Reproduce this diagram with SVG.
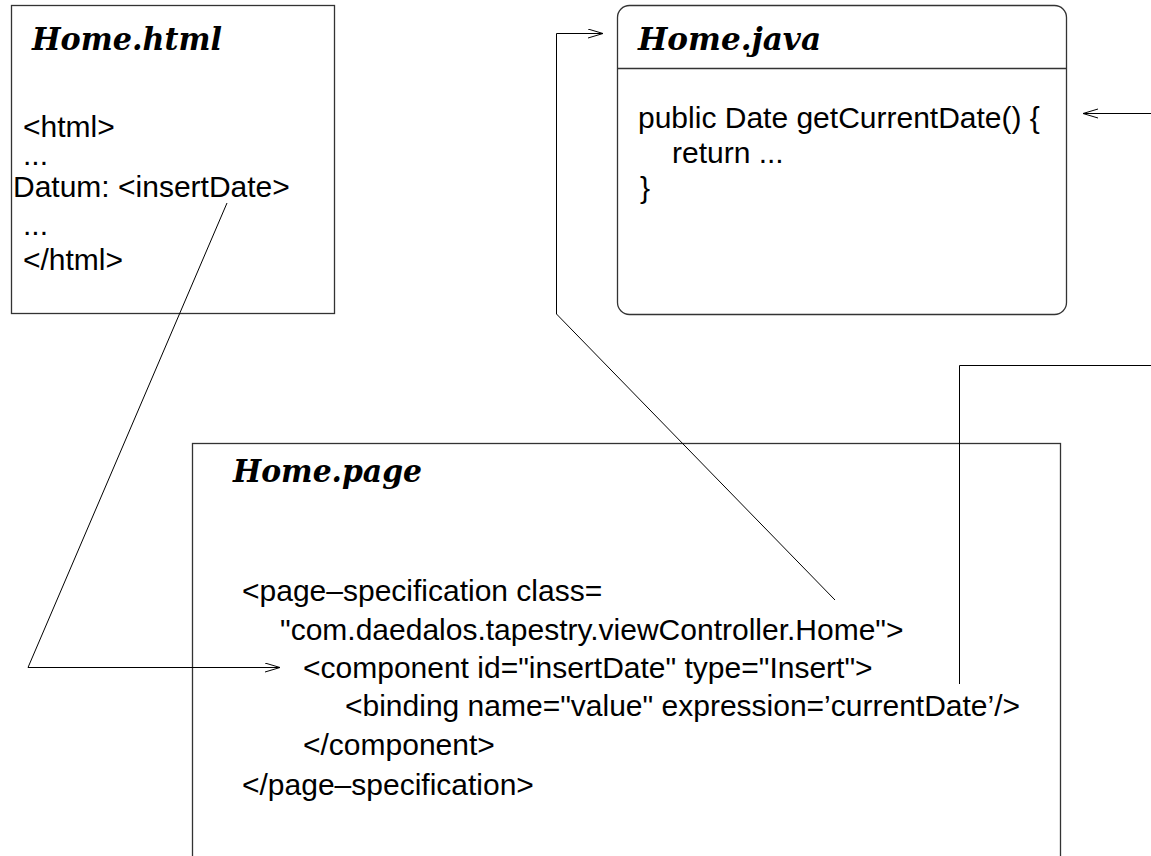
<svg xmlns="http://www.w3.org/2000/svg" width="1151" height="856" viewBox="0 0 1151 856">
<style>
.box{fill:#fff;stroke:#333;stroke-width:1.3}
.title{font-family:"DejaVu Serif","Liberation Serif",serif;font-weight:bold;font-style:italic;font-size:31px;fill:#000}
.code{font-family:"Liberation Sans",Arial,sans-serif;font-size:30px;fill:#000}
.dots{font-family:"Liberation Sans",Arial,sans-serif;font-size:30px;fill:#000}
.conn{fill:none;stroke:#000;stroke-width:1}
</style>
<defs>
<marker id="open" markerUnits="userSpaceOnUse" markerWidth="18" markerHeight="12" refX="15" refY="5" orient="auto">
<path d="M0,0.5 L15,5 L0,9.5" fill="none" stroke="#000" stroke-width="1"/>
</marker>
</defs>
<rect width="1151" height="856" fill="#fff"/>
<g id="home-html">
<rect class="box" x="11.5" y="5.5" width="323" height="308"/>
<text class="title" x="32" y="50" textLength="190" lengthAdjust="spacingAndGlyphs">Home.html</text>
<text class="code" x="23" y="137">&lt;html&gt;</text>
<text class="dots" x="23" y="165">...</text>
<text class="code" x="13" y="197">Datum: &lt;insertDate&gt;</text>
<text class="dots" x="23" y="235">...</text>
<text class="code" x="23" y="270">&lt;/html&gt;</text>
</g>
<g id="home-java">
<rect class="box" x="617.5" y="5.5" width="449" height="309" rx="12" ry="12"/>
<line x1="617.5" y1="68.5" x2="1066.5" y2="68.5" stroke="#333" stroke-width="1.3"/>
<text class="title" x="638" y="50" textLength="183" lengthAdjust="spacingAndGlyphs">Home.java</text>
<text class="code" x="638" y="128">public Date getCurrentDate() {</text>
<text class="code" x="672" y="163">return ...</text>
<text class="code" x="640" y="198">}</text>
</g>
<g id="home-page">
<rect class="box" x="192.5" y="443.5" width="868" height="440"/>
<text class="title" x="233" y="482" textLength="189" lengthAdjust="spacingAndGlyphs">Home.page</text>
<text class="code" x="242" y="601">&lt;page–specification class=</text>
<text class="code" x="280" y="640">"com.daedalos.tapestry.viewController.Home"&gt;</text>
<text class="code" x="303" y="678">&lt;component id="insertDate" type="Insert"&gt;</text>
<text class="code" x="345" y="716">&lt;binding name="value" expression=’currentDate’/&gt;</text>
<text class="code" x="303" y="755">&lt;/component&gt;</text>
<text class="code" x="242" y="795">&lt;/page–specification&gt;</text>
</g>
<g id="connectors">
<polyline class="conn" points="835,600 556.5,314 556.5,33.5 603,33.5" marker-end="url(#open)"/>
<polyline class="conn" points="227,203 28,667.5 280,667.5" marker-end="url(#open)"/>
<polyline class="conn" points="959.5,684 959.5,365.5 1151,365.5"/>
<line class="conn" x1="1151" y1="113.5" x2="1083" y2="113.5" marker-end="url(#open)"/>
</g>
</svg>
